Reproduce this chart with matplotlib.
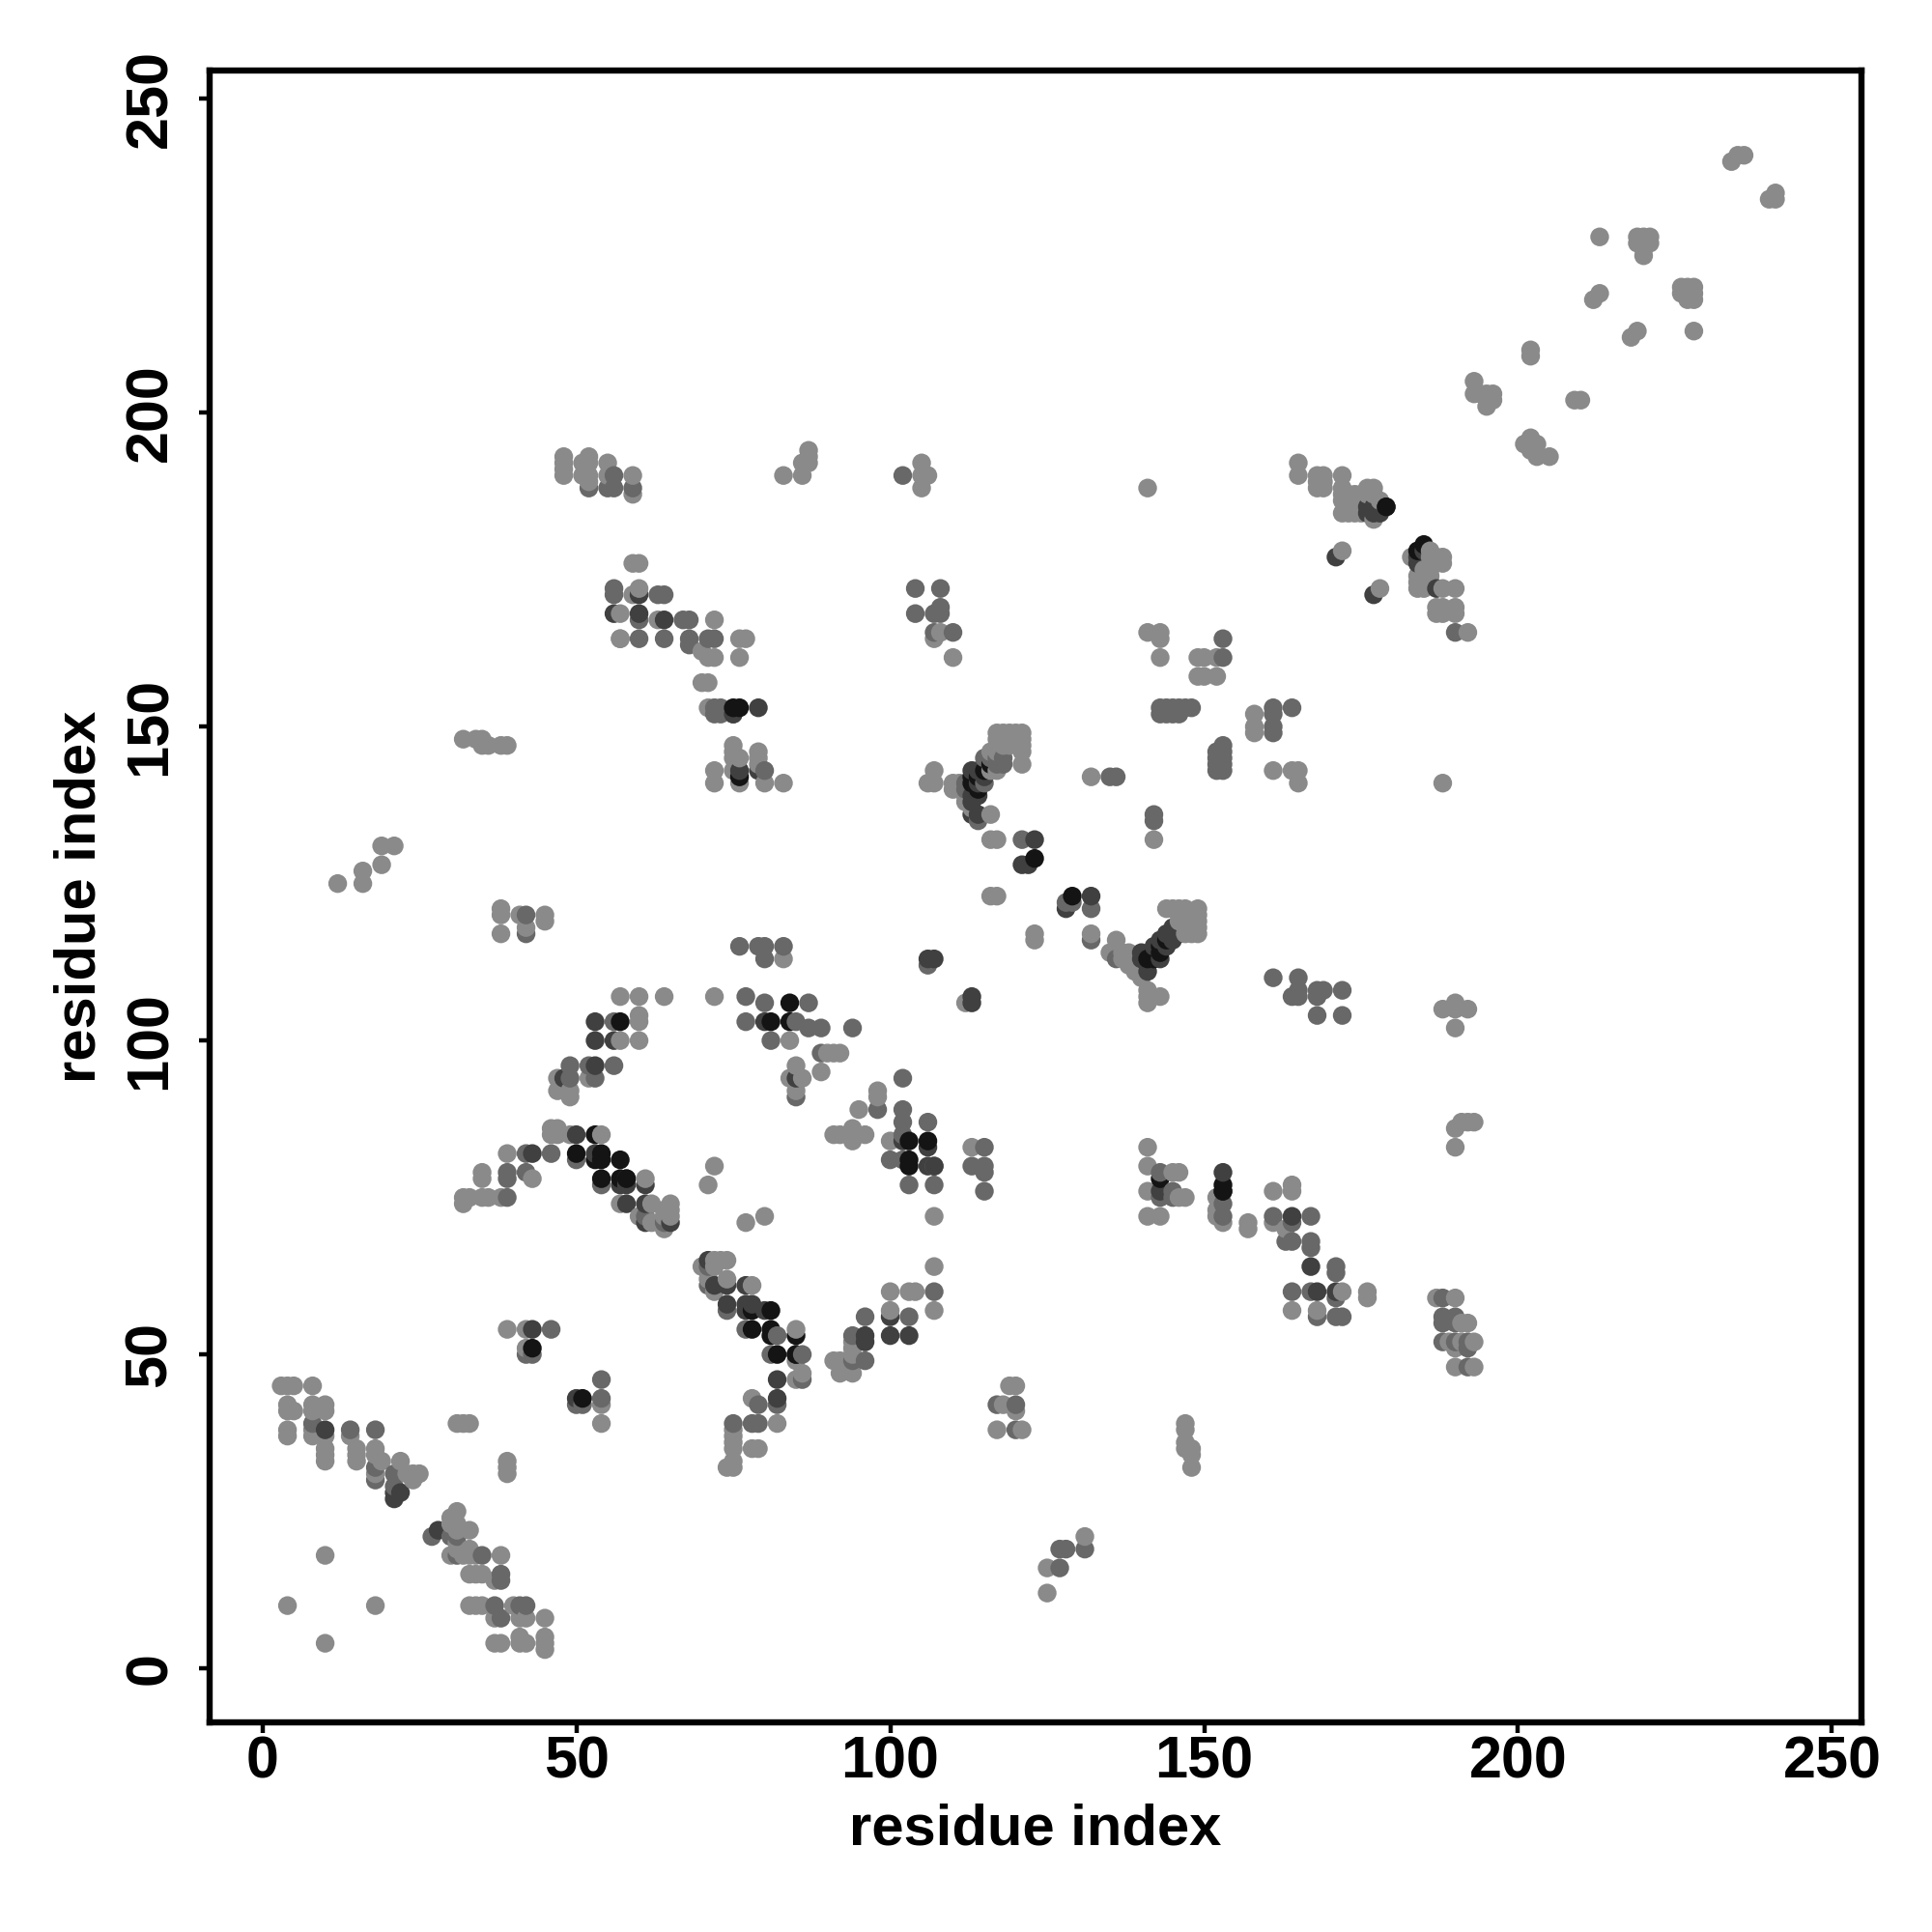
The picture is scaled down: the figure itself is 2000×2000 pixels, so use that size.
import numpy as np
import matplotlib
matplotlib.use('Agg')
import matplotlib.pyplot as plt

plt.rcParams['font.family'] = ['Liberation Sans', 'DejaVu Sans']
plt.rcParams['font.weight'] = 'bold'

# contacts, (i, j), grouped by how dark the dot is
light = [(3,45),(4,45),(5,45),(8,45),(4,42),(4,41),(5,41),(8,42),(8,41),(10,42),(10,41),(4,38),(4,37),(8,38),(8,37),
    (10,37),(10,35),(10,34),(10,33),(14,37),(15,35),(15,34),(15,33),(18,35),(18,34),(19,33),(18,31),(22,33),(23,31),(24,31),(25,31),(24,30),
    (39,54),(42,54),(42,51),(54,42),(54,39),(31,39),(32,39),(33,39),(39,33),(39,32),(39,31),(31,25),(30,24),(30,23),(31,23),(33,22),(31,22),
    (30,18),(32,18),(33,18),(34,18),(33,19),(38,18),(31,19),(31,20),(33,15),(34,15),(35,15),(37,14),(33,10),(34,10),(35,10),(40,10),(37,8),(41,8),(42,8),(45,8),
    (37,4),(38,4),(41,5),(41,4),(42,4),(45,5),(45,4),(45,3),(10,18),(4,10),(18,10),(10,4),
    (60,103),(57,100),(60,100),(47,94),(52,94),(47,92),(49,92),(49,91),(46,86),(47,86),(46,85),(47,85),(49,85),(54,85),(39,82),(35,79),(35,78),(43,78),(32,74),(32,75),(33,75),(35,75),(36,75),(38,75),
    (61,78),(57,74),(62,74),(60,72),(62,71),(64,73),(64,72),(65,74),(65,73),(65,72),(64,70),(72,80),(71,77),(77,71),(80,72),(107,72),
    (84,100),(90,98),(91,98),(92,98),(89,95),(85,96),(84,94),(86,94),(85,92),(98,92),(98,91),(95,89),(91,85),(92,85),(94,86),(94,84),(96,85),(100,84),
    (107,64),(100,60),(103,60),(104,60),(100,57),(107,57),(94,52),(94,51),(91,49),(92,49),(92,47),(94,47),(94,50),
    (70,64),(72,65),(72,64),(73,65),(74,65),(71,63),(71,62),(74,62),(72,60),(78,61),(85,54),(85,49),(86,47),(85,46),(78,43),(82,39),(75,36),(75,35),(78,35),(79,35),(75,38),(75,37),(74,32),(75,32),(75,33),
    (57,164),(70,162),(70,157),(71,157),(71,153),(75,147),(75,146),(76,145),(75,145),(79,146),(79,145),(79,144),(72,143),(75,143),(72,141),(76,141),(80,141),(83,141),(71,161),(72,161),(76,161),(76,164),(77,164),
    (38,121),(38,120),(38,117),(41,120),(42,118),(45,120),(45,119),(32,148),(34,148),(35,148),(35,147),(36,147),(38,147),(39,147),
    (57,107),(60,107),(64,107),(72,107),(60,104),(83,113),(48,193),(48,192),(48,191),(48,190),(51,192),(52,193),(52,192),(51,190),(52,190),(52,189),(55,192),(55,190),(59,190),(59,187),
    (87,194),(87,193),(86,192),(87,192),(83,190),(86,190),(105,192),(105,190),(106,190),(105,188),(59,176),(60,176),(59,171),(60,172),(57,168),(63,167),(72,167),(57,164),(108,165),(107,164),(110,161),
    (117,149),(118,149),(119,149),(120,149),(121,149),(117,148),(118,148),(119,148),(120,148),(121,148),(121,147),(121,146),(121,144),(118,147),(119,147),(117,147),(116,146),(117,146),(116,143),(117,143),(112,139),(110,141),(111,141),(110,140),(111,140),(112,138),(113,137),(116,136),
    (107,143),(106,141),(107,141),(116,132),(117,132),(116,123),(117,123),(123,117),(123,116),(132,117),(136,116),(135,114),(137,114),(138,114),(138,113),(137,113),(138,112),(139,111),(140,110),
    (144,121),(145,121),(146,121),(147,121),(149,121),(146,120),(147,120),(149,120),(146,119),(147,119),(149,119),(149,118),(148,118),(147,118),(149,117),(148,117),(147,117),(141,107),(141,106),(143,107),(141,108),(112,106),
    (132,142),(142,132),(158,152),(158,150),(158,149),(164,143),(165,143),(165,141),(161,143),(141,188),(141,165),(143,165),(143,164),(143,161),(149,161),(150,161),(152,161),(149,158),(150,158),(152,158),
    (165,192),(165,190),(168,190),(169,190),(168,189),(169,189),(168,188),(169,188),(172,190),(172,188),(172,187),(172,186),(173,187),(173,186),(173,185),(173,184),(174,187),(174,186),(174,185),(174,184),(175,187),(175,186),(175,185),(175,184),(176,188),(177,188),(176,187),(177,187),(178,186),(172,184),(177,183),
    (172,178),(178,172),(183,177),(186,178),(186,177),(188,177),(188,176),(187,177),(184,174),(184,173),(184,172),(186,175),(186,174),(186,173),(185,175),(185,174),(185,173),(185,172),(188,172),(190,172),(187,169),(188,169),(190,169),(187,168),(188,168),(190,168),(192,165),
    (188,141),(234,240),(235,241),(236,241),(240,234),(241,234),(241,235),(213,228),(219,228),(220,228),(221,228),(219,227),(220,226),(221,227),(220,225),(212,218),(213,219),(219,213),(218,212),
    (226,220),(227,220),(228,220),(228,219),(228,218),(226,219),(227,218),(228,213),(202,210),(202,209),(209,202),(210,202),(193,205),(193,203),(194,203),(195,203),(196,203),(195,201),(196,202),(201,195),(202,196),(202,194),(203,195),(203,193),(205,193),
    (188,105),(190,106),(190,105),(192,105),(190,102),(190,86),(191,87),(192,87),(193,87),(190,83),(113,83),(141,83),(141,80),(145,79),(146,79),(141,76),(146,75),(147,75),(141,72),(143,72),(152,73),(152,72),(153,71),(152,75),
    (157,71),(157,70),(161,76),(164,77),(164,76),(161,71),(163,70),(172,60),(176,60),(176,59),(164,57),(168,57),(187,59),(190,59),(191,55),(192,55),(189,52),(191,52),(193,52),(190,51),(190,48),(193,48),
    (119,45),(120,45),(118,42),(120,41),(117,38),(121,38),(147,39),(147,38),(147,36),(147,35),(148,35),(148,34),(148,32),(131,21),(125,16),(125,12),(12,125),(16,125),(16,127),(19,128),(19,131),(21,131)]

mid = [(14,38),(18,38),(8,39),(18,30),(21,31),(21,29),(46,54),(42,50),(43,50),(54,46),(54,43),(50,42),(51,42),(27,21),(30,21),(31,21),(35,18),(31,18),(38,15),(38,14),(37,10),(38,8),(41,10),(42,10),(18,32),
    (56,103),(49,96),(52,96),(56,96),(49,94),(53,94),(50,81),(42,82),(46,82),(39,79),(39,78),(42,79),(39,75),(54,77),(61,72),(64,71),(77,103),(85,103),(87,102),(89,102),(94,102),(81,100),(89,98),(85,91),(102,94),(98,89),(102,89),(102,87),(106,87),(102,85),(100,81),(102,81),(103,77),(107,77),(107,60),(103,56),(96,56),(94,53),(96,49),(94,49),
    (71,64),(71,61),(74,57),(77,54),(82,53),(81,50),(86,50),(86,46),(82,42),(79,42),(75,39),(78,39),(79,39),
    (60,164),(64,164),(68,164),(68,163),(71,164),(72,164),(72,152),(73,152),(75,152),(73,153),(72,153),(80,143),(76,115),(79,115),(80,115),(83,115),(80,113),(106,112),(80,106),(87,106),(77,107),(42,117),(42,120),
    (56,190),(55,188),(56,188),(59,188),(52,188),(102,190),(56,172),(56,171),(63,171),(64,171),(60,167),(67,167),(68,167),(104,172),(108,172),(104,168),(107,168),(108,168),(108,169),(107,165),(110,165),
    (118,145),(117,145),(115,145),(116,145),(118,144),(117,144),(112,141),(115,141),(112,140),(114,135),(121,132),(132,121),(132,116),(136,113),(128,122),(129,122),
    (142,136),(142,135),(135,142),(136,142),(143,153),(144,153),(145,153),(146,153),(147,153),(148,153),(143,152),(144,152),(145,152),(146,152),(153,147),(153,146),(152,146),(153,145),(152,145),(152,144),(153,144),(152,143),(153,143),(161,153),(161,152),(164,153),(161,150),(161,149),
    (161,110),(165,110),(165,108),(164,107),(165,107),(168,108),(169,108),(168,107),(172,108),(168,104),(172,104),(153,164),(153,161),(190,165),
    (115,83),(113,80),(115,80),(115,79),(115,76),(107,80),(143,79),(143,75),(145,76),(145,75),(153,74),(153,72),(161,72),(164,71),(163,68),(164,68),(167,72),(167,68),(167,67),(171,64),(171,63),(164,60),(167,60),(171,59),(168,56),(171,56),(172,56),
    (188,59),(188,56),(190,56),(188,55),(190,55),(188,52),(190,52),(192,52),(192,51),(192,48),(117,42),(120,42),(120,38),(127,19),(128,19),(131,19),(127,16)]

dark = [(10,38),(28,22),(43,54),(50,43),(21,28),(22,28),(21,27),(53,96),(48,94),(53,103),(53,100),(56,100),(50,85),(43,82),(53,82),(58,78),(58,77),(57,77),(61,77),(58,74),(61,74),(61,71),(65,71),
    (80,103),(85,94),(102,84),(106,83),(106,80),(107,80),(100,56),(100,53),(103,53),(96,53),(96,52),(74,58),(71,65),(72,61),(74,61),(77,61),(77,58),(78,58),(77,57),(80,57),(85,50),(82,46),(82,43),
    (75,152),(76,143),(79,143),(79,153),(106,113),(107,113),(60,171),(60,168),(64,167),(56,168),
    (113,143),(114,143),(115,142),(114,142),(114,141),(114,140),(113,139),(114,139),(113,138),(114,136),(113,136),(121,128),(122,128),(132,123),(128,121),
    (140,114),(140,113),(141,112),(141,111),(142,115),(143,113),(144,115),(145,116),(146,117),(143,116),(144,117),(145,118),(113,107),(113,106),(123,132),
    (176,185),(177,185),(176,184),(177,184),(178,184),(179,185),(178,185),(171,177),(177,171),(184,177),(185,178),(184,176),(187,172),
    (153,79),(153,76),(167,64),(168,60),(171,60),(143,76),(164,72)]

black = [(43,51),(51,43),(57,103),(53,85),(54,82),(53,81),(54,81),(57,81),(50,82),(54,78),(57,78),(81,103),(84,103),(103,84),(106,84),(103,81),(103,80),(78,54),(81,57),(78,57),(81,54),(82,50),(85,53),
    (75,153),(76,153),(84,106),(76,142),(123,129),(129,123),(141,113),(142,114),(143,114),(113,142),(113,141),(185,179),(184,178),(153,77),(143,78),
    (114,142),(115,143),(116,144),(114,140),(143,115),(144,116),(142,113),(153,76),(58,78),(81,53),(85,50),(179,185)]

greys = ['#8a8a8a', '#686868', '#404040', '#141414']
tick_vals = [0, 50, 100, 150, 200, 250]

# dots are opaque, later residues sit on top of earlier ones
xs, ys, cols = [], [], []
for pts, g in zip([light, mid, dark, black], greys):
    for p in pts:
        xs.append(p[0])
        ys.append(p[1])
        cols.append(g)
xs = np.array(xs)
ys = np.array(ys)
cols = np.array(cols)
order = np.lexsort((ys, xs))

fig = plt.figure(figsize=(20, 20), dpi=100)
ax = fig.add_axes([217/2000, 217/2000, 1710/2000, 1710/2000])

ax.scatter(xs[order], ys[order], s=195, c=list(cols[order]), linewidths=0)

ax.set_xlim(-8.4, 254.7)
ax.set_ylim(-8.6, 254.5)
ax.set_xticks(tick_vals)
ax.set_yticks(tick_vals)
ax.tick_params(axis='both', length=8, width=3.2, labelsize=44)
ax.tick_params(axis='x', pad=2)
ax.tick_params(axis='y', pad=15)
for t in ax.get_yticklabels():
    t.set_rotation(90)
    t.set_va('center')
for s in ax.spines.values():
    s.set_linewidth(4.6)

ax.set_xlabel('residue index', fontsize=43, fontweight='bold')
ax.set_ylabel('residue index', fontsize=43, fontweight='bold')
ax.xaxis.set_label_coords(0.5, -0.049)
ax.yaxis.set_label_coords(-0.0625, 0.5)

fig.savefig('out.png', dpi=100)
